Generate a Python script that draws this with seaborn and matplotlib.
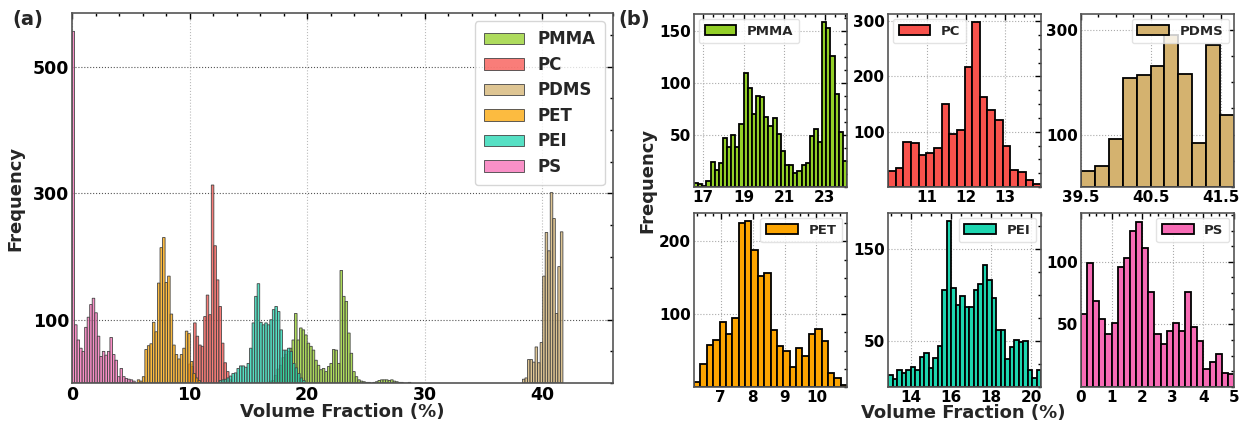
import numpy as np
import pandas as pd
import seaborn as sns
import matplotlib.pyplot as plt
from matplotlib.ticker import AutoMinorLocator

sns.set_theme(style="white")
plt.rcParams['font.family'] = ['DejaVu Sans']
plt.rcParams['font.weight'] = 'bold'
plt.rcParams['axes.labelweight'] = 'bold'

materials = ["PMMA", "PC", "PDMS", "PET", "PEI", "PS"]
colors = ["#93cf27", "#f8524c", "#d4b26f", "#fca400", "#1dd6b0", "#f76bb5"]

# ---- panel (a): all materials, bin start / bin width / counts
a_width = 0.215
a_starts = {"PMMA": 16.77, "PC": 9.91, "PDMS": 38.3, "PET": 5.55, "PEI": 12.52, "PS": 0.0}
a_pmma = [3, 4, 12, 22, 28, 40, 45, 50, 55, 68, 110, 68, 87, 84, 76, 63, 58, 52, 36, 28,
          21, 23, 18, 26, 31, 53, 52, 31, 178, 137, 129, 79, 47, 18, 10, 5, 3, 2, 1, 1,
          0, 1, 2, 4, 5, 5, 5, 4, 5, 3, 2, 1, 1, 0, 0, 1]
a_pc = [30, 26, 95, 74, 60, 58, 105, 139, 108, 313, 217, 163, 121, 63, 32, 18, 5]
a_pdms = [6, 8, 37, 37, 33, 57, 32, 64, 169, 238, 209, 301, 260, 110, 184, 239]
a_pet = [5, 3, 10, 53, 59, 62, 96, 81, 158, 214, 230, 159, 169, 109, 60, 45, 38, 45, 55,
         82, 78, 34, 15, 8, 4]
a_pei = [4, 5, 6, 8, 11, 15, 16, 23, 27, 27, 25, 31, 55, 95, 137, 157, 96, 92, 95, 92,
         100, 116, 121, 113, 84, 52, 52, 55, 50, 31, 24, 15, 8, 4]
a_ps = [556, 92, 68, 55, 50, 88, 104, 124, 134, 111, 74, 42, 50, 44, 50, 72, 45, 36, 10,
        23, 10, 7, 6, 5, 3]
a_counts = {"PMMA": a_pmma, "PC": a_pc, "PDMS": a_pdms, "PET": a_pet, "PEI": a_pei, "PS": a_ps}

# ---- panel (b): one histogram per material
pmma_start, pmma_width = 16.56, 0.2035
pmma_counts = [4, 2.5, 1, 6, 24, 16, 23, 47, 38, 50, 38, 60, 109, 95, 70, 87, 86, 67, 59,
               66, 51, 35, 21, 21, 13, 15, 21, 23, 49, 56, 43, 158, 153, 126, 89, 53, 25]
pc_start, pc_width = 10.01, 0.196
pc_counts = [29, 34, 82, 79, 57, 62, 70, 150, 96, 104, 217, 298, 162, 139, 122, 74, 31,
             28, 13, 5]
pdms_start, pdms_width = 39.5, 0.199
pdms_counts = [31, 40, 92, 208, 214, 230, 290, 216, 84, 270, 138]
pet_start, pet_width = 6.16, 0.2
pet_counts = [7, 31, 58, 64, 89, 73, 95, 225, 228, 188, 153, 156, 78, 57, 50, 28, 54, 42,
              73, 79, 63, 19, 12, 3]
pei_start, pei_width = 12.83, 0.2256
pei_counts = [13, 9, 19, 15, 19, 22, 18, 33, 37, 21, 31, 44, 105, 180, 108, 89, 99, 87,
              87, 105, 112, 132, 116, 97, 62, 62, 30, 43, 51, 49, 50, 18, 10, 19]
ps_start, ps_width = 0.0, 0.2
ps_counts = [58, 99, 69, 54, 42, 51, 96, 103, 125, 132, 111, 76, 42, 34, 45, 51, 45, 76,
             48, 37, 14, 20, 26, 11, 10]

b_data = [
    ("PMMA", pmma_start, pmma_width, pmma_counts, 166, [17, 19, 21, 23], [50, 100, 150], "upper left"),
    ("PC", pc_start, pc_width, pc_counts, 313, [11, 12, 13], [100, 200, 300], "upper left"),
    ("PDMS", pdms_start, pdms_width, pdms_counts, 330, [39.5, 40.5, 41.5], [100, 300], "upper right"),
    ("PET", pet_start, pet_width, pet_counts, 239, [7, 8, 9, 10], [100, 200], "upper right"),
    ("PEI", pei_start, pei_width, pei_counts, 189, [14, 16, 18, 20], [50, 150], "upper right"),
    ("PS", ps_start, ps_width, ps_counts, 139, [0, 1, 2, 3, 4, 5], [50, 100], "upper right"),
]


def draw_hist(ax, start, width, counts, color, **kw):
    counts = np.asarray(counts, float)
    edges = start + width * np.arange(len(counts) + 1)
    df = pd.DataFrame({"x": edges[:-1] + width / 2, "w": counts})
    sns.histplot(data=df, x="x", weights="w", bins=list(edges), color=color, ax=ax, **kw)
    return edges


def style_axes(ax, fs):
    ax.tick_params(which="both", direction="in", top=True, right=True, pad=2,
                   labelsize=fs, colors="black", width=1.0)
    ax.tick_params(which="major", length=4)
    ax.tick_params(which="minor", length=2.2)
    for s in ax.spines.values():
        s.set_color("#555555")
        s.set_linewidth(1.2)
    for lab in ax.get_xticklabels() + ax.get_yticklabels():
        lab.set_fontweight("bold")
    ax.set_xlabel("")
    ax.set_ylabel("")


fig = plt.figure(figsize=(12.4, 4.24), dpi=100)

# ---- (a)
axA = fig.add_axes([72 / 1240, 41 / 424, 541 / 1240, 370 / 424])
for name, col in zip(materials, colors):
    draw_hist(axA, a_starts[name], a_width, a_counts[name], col, snap=False,
              alpha=0.75, edgecolor="#444444", linewidth=0.6, label=name)
axA.set_xlim(0, 46)
axA.set_ylim(0, 585)
axA.set_xticks([0, 10, 20, 30, 40])
axA.set_yticks([100, 300, 500])
axA.xaxis.set_minor_locator(AutoMinorLocator(5))
axA.yaxis.set_minor_locator(AutoMinorLocator(4))
axA.grid(True, which="major", axis="y", linestyle=":", color="#555555", linewidth=0.8)
axA.grid(True, which="major", axis="x", linestyle=":", color="#bbbbbb", linewidth=0.8)
style_axes(axA, 12.5)
axA.set_ylabel("Frequency", fontsize=13, fontweight="bold", labelpad=6)
axA.legend(loc="upper right", prop={"size": 12, "weight": "bold"}, handlelength=2.4,
           labelspacing=0.45, borderpad=0.55, edgecolor="#cccccc", fancybox=True)

# ---- (b)
lefts = [694, 888, 1081]
rows = [(424 - 187, 173), (424 - 387, 174)]
for i, (name, start, width, counts, ytop, xt, yt, loc) in enumerate(b_data):
    r, c = divmod(i, 3)
    ax = fig.add_axes([lefts[c] / 1240, rows[r][0] / 424, 153 / 1240, rows[r][1] / 424])
    col = colors[materials.index(name)]
    edges = draw_hist(ax, start, width, counts, col, alpha=1, edgecolor="black",
                      linewidth=1.3, label=name)
    ax.set_xlim(edges[0], edges[-1])
    ax.set_ylim(0, ytop)
    ax.set_xticks(xt)
    ax.set_yticks(yt)
    ax.xaxis.set_minor_locator(AutoMinorLocator(4))
    ax.yaxis.set_minor_locator(AutoMinorLocator(4))
    ax.grid(True, which="major", linestyle=":", color="#aaaaaa", linewidth=0.8)
    style_axes(ax, 11)
    ax.legend(loc=loc, prop={"size": 9.5, "weight": "bold"}, handlelength=2.4,
              borderpad=0.45, borderaxespad=0.35, edgecolor="#dddddd")

fig.text(12 / 1240, 1 - 20 / 424, "(a)", fontsize=14, fontweight="bold", va="center")
fig.text(618 / 1240, 1 - 20 / 424, "(b)", fontsize=14, fontweight="bold", va="center")
fig.text(342 / 1240, 1 - 412 / 424, "Volume Fraction (%)", fontsize=13, fontweight="bold",
         ha="center", va="center")
fig.text(647 / 1240, 1 - 180 / 424, "Frequency", fontsize=13, fontweight="bold",
         rotation=90, ha="center", va="center")
fig.text(963 / 1240, 1 - 413 / 424, "Volume Fraction (%)", fontsize=13, fontweight="bold",
         ha="center", va="center")

fig.savefig("out.png", dpi=100)
